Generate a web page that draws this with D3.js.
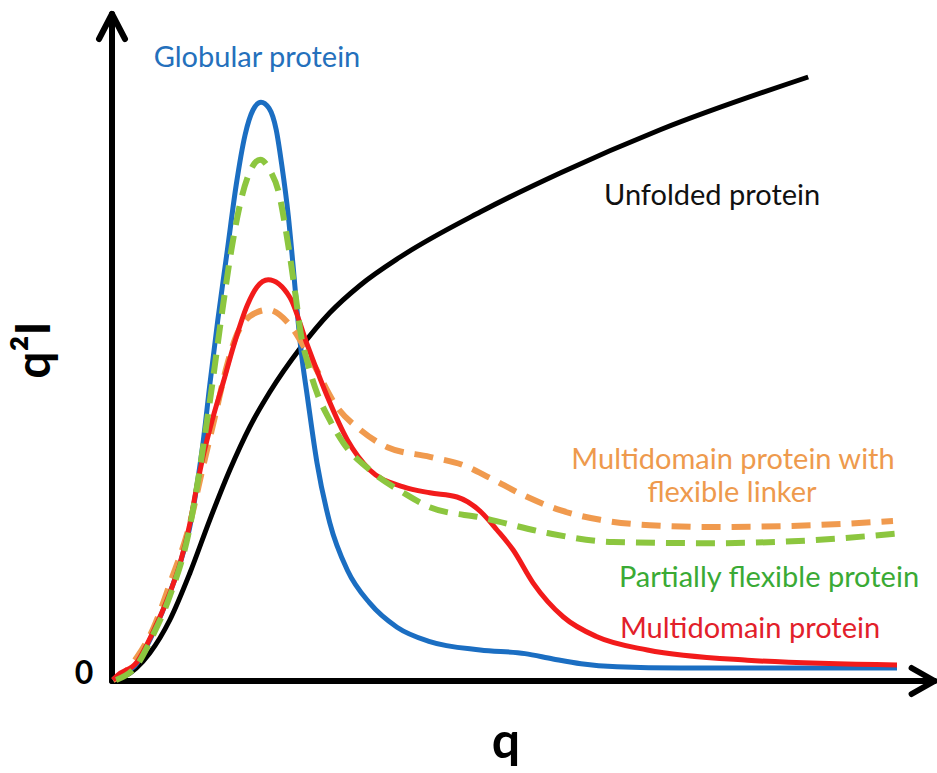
<!DOCTYPE html>
<html>
<head>
<meta charset="utf-8">
<script src="https://cdn.jsdelivr.net/npm/d3@7"></script>
<style>
  body { margin: 0; background: #fff; }
  text { font-family: Lato, "Open Sans", sans-serif; }
</style>
</head>
<body>
<div id="chart"></div>
<script>
// Kratky plot (q vs q²I), schematic curves, arbitrary units
const unfolded = [[0,0],[0.13,0.05],[0.46,0.45],[0.71,1.0],[0.96,1.78],[1.21,2.67],[1.46,3.5],[1.71,4.22],[1.96,4.8],[2.34,5.53],[2.71,6.12],[3.09,6.58],[3.59,7.05],[4.59,7.8],[5.59,8.45],[6.84,9.17],[8.69,10.05]];
const globular = [[0,0],[0.05,0.05],[0.3,0.28],[0.5,0.78],[0.71,1.45],[0.84,1.95],[0.96,2.55],[1.05,3.25],[1.13,4.0],[1.21,4.92],[1.31,6.0],[1.43,7.17],[1.54,8.25],[1.65,9.08],[1.75,9.5],[1.85,9.63],[1.95,9.53],[2.04,9.17],[2.11,8.58],[2.19,7.75],[2.25,6.92],[2.3,6.17],[2.35,5.5],[2.43,4.72],[2.55,3.62],[2.71,2.62],[2.93,1.83],[3.21,1.28],[3.55,0.88],[3.96,0.64],[4.59,0.5],[5.15,0.44],[5.5,0.35],[5.85,0.27],[6.3,0.22],[7.09,0.2],[9.8,0.2]];
const multidomain = [[0,0],[0.05,0.07],[0.3,0.3],[0.5,0.8],[0.71,1.45],[0.84,1.95],[0.96,2.6],[1.04,3.17],[1.13,3.75],[1.24,4.33],[1.38,4.97],[1.51,5.58],[1.68,6.25],[1.8,6.55],[1.94,6.67],[2.21,6.38],[2.43,5.58],[2.68,4.72],[2.93,4.0],[3.21,3.5],[3.63,3.22],[3.96,3.12],[4.3,3.05],[4.6,2.8],[4.8,2.5],[5.0,2.17],[5.25,1.62],[5.63,1.05],[6.05,0.72],[6.68,0.5],[7.93,0.33],[9.8,0.25]];
const flexibleLinker = [[0,0],[0.15,0.13],[0.3,0.38],[0.5,0.85],[0.71,1.6],[0.96,2.6],[1.13,3.58],[1.28,4.42],[1.41,5.17],[1.53,5.7],[1.66,6.0],[1.8,6.13],[1.94,6.17],[2.21,5.92],[2.5,5.28],[2.8,4.55],[3.09,4.17],[3.43,3.88],[3.96,3.72],[4.38,3.58],[4.71,3.37],[5.13,3.08],[5.59,2.83],[6.09,2.67],[6.71,2.58],[7.5,2.55],[8.75,2.58],[9.75,2.65]];
const partiallyFlexible = [[0.04,0],[0.3,0.25],[0.5,0.75],[0.71,1.4],[0.96,2.55],[1.05,3.22],[1.14,4.0],[1.24,4.92],[1.35,6.0],[1.48,7.17],[1.6,8.0],[1.71,8.47],[1.84,8.67],[1.96,8.5],[2.08,8.08],[2.15,7.58],[2.21,7.08],[2.29,6.33],[2.35,5.75],[2.43,5.3],[2.56,4.75],[2.71,4.33],[2.88,3.95],[3.21,3.5],[3.63,3.12],[3.96,2.88],[4.63,2.7],[5.43,2.45],[6.25,2.3],[7.5,2.28],[8.75,2.33],[9.86,2.45]];

const seriesNames = ["Unfolded protein", "Globular protein", "Multidomain protein with", "Multidomain protein", "Partially flexible protein"];
const zeroLabel = "0";
const xLabel = "q";
const yLabel = "q²I";

const width = 937, height = 773;
const svg = d3.select("#chart").append("svg")
  .attr("width", width)
  .attr("height", height);

const x = d3.scaleLinear().domain([0, 10]).range([113, 913]);
const y = d3.scaleLinear().domain([0, 10]).range([680, 80]);

// axes with open arrowheads
const x0 = x(0) - 1, y0 = y(0) + 1;
const xEnd = x(10.27), yEnd = y(11.1);
const axis = svg.append("g")
  .attr("fill", "none")
  .attr("stroke", "#000")
  .attr("stroke-width", 6)
  .attr("stroke-linecap", "round")
  .attr("stroke-linejoin", "round");
axis.append("path").attr("d", `M${x0},${y0}V${yEnd}`);
axis.append("path").attr("d", `M${x0},${y0}H${xEnd}`);
axis.append("path").attr("d", `M${x0 - 13},${yEnd + 25}L${x0},${yEnd}L${x0 + 13},${yEnd + 25}`);
axis.append("path").attr("d", `M${xEnd - 23},${y0 - 13}L${xEnd},${y0}L${xEnd - 23},${y0 + 13}`);

const line = d3.line()
  .x(d => x(d[0]))
  .y(d => y(d[1]))
  .curve(d3.curveMonotoneX);

const curves = [
  { data: unfolded, color: "#000000", dash: null, w: 5 },
  { data: globular, color: "#1B6EC2", dash: null, w: 5 },
  { data: flexibleLinker, color: "#F09A4E", dash: "19,11", w: 6 },
  { data: multidomain, color: "#F21B1B", dash: null, w: 5 },
  { data: partiallyFlexible, color: "#8CC63F", dash: "19,11", w: 6 }
];

svg.selectAll(".curve")
  .data(curves)
  .enter()
  .append("path")
  .attr("class", "curve")
  .attr("d", d => line(d.data))
  .attr("fill", "none")
  .attr("stroke", d => d.color)
  .attr("stroke-width", d => d.w)
  .attr("stroke-dasharray", d => d.dash)
  .attr("stroke-linecap", "butt");

// curve labels
const labels = [
  { text: seriesNames[1], x: 257, y: 67, anchor: "middle", color: "#2470BC" },
  { text: seriesNames[0], x: 604, y: 205, anchor: "start", color: "#111" },
  { text: seriesNames[2], x: 733, y: 469, anchor: "middle", color: "#EE9A4D" },
  { text: "flexible linker", x: 732, y: 502, anchor: "middle", color: "#EE9A4D" },
  { text: seriesNames[4], x: 769, y: 587, anchor: "middle", color: "#3AAA35" },
  { text: seriesNames[3], x: 750, y: 638, anchor: "middle", color: "#E2202A" }
];
svg.selectAll(".label")
  .data(labels)
  .enter()
  .append("text")
  .attr("class", "label")
  .attr("x", d => d.x)
  .attr("y", d => d.y)
  .attr("text-anchor", d => d.anchor)
  .attr("fill", d => d.color)
  .attr("font-size", 29)
  .text(d => d.text);

svg.append("text")
  .attr("x", 84).attr("y", 684)
  .attr("text-anchor", "middle")
  .attr("font-size", 32)
  .attr("font-weight", "bold")
  .text(zeroLabel);

svg.append("text")
  .attr("x", 506).attr("y", 758)
  .attr("text-anchor", "middle")
  .attr("font-size", 50)
  .attr("font-weight", "bold")
  .text(xLabel);

svg.append("text")
  .attr("transform", "translate(50,350) rotate(-90)")
  .attr("text-anchor", "middle")
  .attr("font-size", 48)
  .attr("font-weight", "bold")
  .text(yLabel);
</script>
</body>
</html>
